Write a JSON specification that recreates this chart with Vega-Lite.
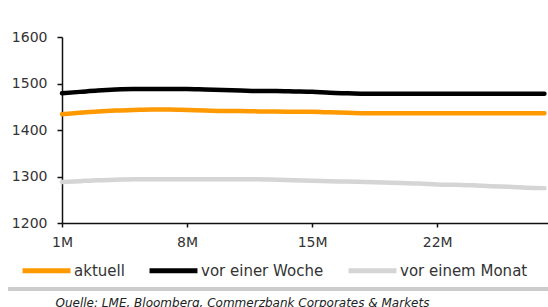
{
  "$schema": "https://vega.github.io/schema/vega-lite/v6.json",
  "width": 486,
  "height": 186,
  "autosize": {"type": "none"},
  "padding": {"left": 62, "top": 37, "right": 0, "bottom": 84},
  "background": "white",
  "config": {
    "font": "DejaVu Sans",
    "view": {"stroke": null},
    "axis": {"grid": false, "domainColor": "#111", "domainWidth": 1.5, "tickColor": "#111", "tickWidth": 1.5, "labelColor": "#333", "labelFontSize": 14, "labelFont": "DejaVu Sans", "title": null}
  },
  "data": {
    "values": [
      {"m": 1, "s": "aktuell", "v": 1434}, {"m": 2, "s": "aktuell", "v": 1437}, {"m": 3, "s": "aktuell", "v": 1440}, {"m": 4, "s": "aktuell", "v": 1442},
      {"m": 5, "s": "aktuell", "v": 1443}, {"m": 6, "s": "aktuell", "v": 1444}, {"m": 7, "s": "aktuell", "v": 1444}, {"m": 8, "s": "aktuell", "v": 1443},
      {"m": 9, "s": "aktuell", "v": 1442}, {"m": 10, "s": "aktuell", "v": 1441}, {"m": 11, "s": "aktuell", "v": 1441}, {"m": 12, "s": "aktuell", "v": 1440},
      {"m": 13, "s": "aktuell", "v": 1440}, {"m": 14, "s": "aktuell", "v": 1439}, {"m": 15, "s": "aktuell", "v": 1439}, {"m": 16, "s": "aktuell", "v": 1438},
      {"m": 17, "s": "aktuell", "v": 1437}, {"m": 18, "s": "aktuell", "v": 1436}, {"m": 19, "s": "aktuell", "v": 1436}, {"m": 20, "s": "aktuell", "v": 1436},
      {"m": 21, "s": "aktuell", "v": 1436}, {"m": 22, "s": "aktuell", "v": 1436}, {"m": 23, "s": "aktuell", "v": 1436}, {"m": 24, "s": "aktuell", "v": 1436},
      {"m": 25, "s": "aktuell", "v": 1436}, {"m": 26, "s": "aktuell", "v": 1436}, {"m": 27, "s": "aktuell", "v": 1436}, {"m": 28, "s": "aktuell", "v": 1436},
      {"m": 1, "s": "vor einer Woche", "v": 1479}, {"m": 2, "s": "vor einer Woche", "v": 1482}, {"m": 3, "s": "vor einer Woche", "v": 1485}, {"m": 4, "s": "vor einer Woche", "v": 1487},
      {"m": 5, "s": "vor einer Woche", "v": 1488}, {"m": 6, "s": "vor einer Woche", "v": 1488}, {"m": 7, "s": "vor einer Woche", "v": 1488}, {"m": 8, "s": "vor einer Woche", "v": 1488},
      {"m": 9, "s": "vor einer Woche", "v": 1487}, {"m": 10, "s": "vor einer Woche", "v": 1486}, {"m": 11, "s": "vor einer Woche", "v": 1485}, {"m": 12, "s": "vor einer Woche", "v": 1484},
      {"m": 13, "s": "vor einer Woche", "v": 1484}, {"m": 14, "s": "vor einer Woche", "v": 1483}, {"m": 15, "s": "vor einer Woche", "v": 1482}, {"m": 16, "s": "vor einer Woche", "v": 1480},
      {"m": 17, "s": "vor einer Woche", "v": 1479}, {"m": 18, "s": "vor einer Woche", "v": 1478}, {"m": 19, "s": "vor einer Woche", "v": 1478}, {"m": 20, "s": "vor einer Woche", "v": 1478},
      {"m": 21, "s": "vor einer Woche", "v": 1478}, {"m": 22, "s": "vor einer Woche", "v": 1478}, {"m": 23, "s": "vor einer Woche", "v": 1478}, {"m": 24, "s": "vor einer Woche", "v": 1478},
      {"m": 25, "s": "vor einer Woche", "v": 1478}, {"m": 26, "s": "vor einer Woche", "v": 1478}, {"m": 27, "s": "vor einer Woche", "v": 1478}, {"m": 28, "s": "vor einer Woche", "v": 1478},
      {"m": 1, "s": "vor einem Monat", "v": 1288}, {"m": 2, "s": "vor einem Monat", "v": 1290}, {"m": 3, "s": "vor einem Monat", "v": 1292}, {"m": 4, "s": "vor einem Monat", "v": 1293},
      {"m": 5, "s": "vor einem Monat", "v": 1294}, {"m": 6, "s": "vor einem Monat", "v": 1294}, {"m": 7, "s": "vor einem Monat", "v": 1294}, {"m": 8, "s": "vor einem Monat", "v": 1294},
      {"m": 9, "s": "vor einem Monat", "v": 1294}, {"m": 10, "s": "vor einem Monat", "v": 1294}, {"m": 11, "s": "vor einem Monat", "v": 1294}, {"m": 12, "s": "vor einem Monat", "v": 1294},
      {"m": 13, "s": "vor einem Monat", "v": 1293}, {"m": 14, "s": "vor einem Monat", "v": 1292}, {"m": 15, "s": "vor einem Monat", "v": 1291}, {"m": 16, "s": "vor einem Monat", "v": 1290},
      {"m": 17, "s": "vor einem Monat", "v": 1289}, {"m": 18, "s": "vor einem Monat", "v": 1288}, {"m": 19, "s": "vor einem Monat", "v": 1287}, {"m": 20, "s": "vor einem Monat", "v": 1286},
      {"m": 21, "s": "vor einem Monat", "v": 1285}, {"m": 22, "s": "vor einem Monat", "v": 1283}, {"m": 23, "s": "vor einem Monat", "v": 1282}, {"m": 24, "s": "vor einem Monat", "v": 1281},
      {"m": 25, "s": "vor einem Monat", "v": 1279}, {"m": 26, "s": "vor einem Monat", "v": 1278}, {"m": 27, "s": "vor einem Monat", "v": 1276}, {"m": 28, "s": "vor einem Monat", "v": 1275}
    ]
  },
  "layer": [
    {
      "mark": {"type": "line", "strokeWidth": 4.5, "interpolate": "monotone", "strokeCap": "round"},
      "encoding": {
        "x": {
          "field": "m", "type": "quantitative",
          "scale": {"domain": [1, 28.2], "nice": false, "zero": false},
          "axis": {
            "values": [1, 8, 15, 22], "labelExpr": "datum.value + 'M'", "tickSize": 4, "labelPadding": 8, "labelFlush": false,
            "title": "Quelle: LME, Bloomberg, Commerzbank Corporates & Markets",
            "titleX": -7, "titleY": 74, "titleAlign": "left", "titleAnchor": "start", "titleBaseline": "top",
            "titleFontSize": 12, "titleFontStyle": "italic", "titleFontWeight": "normal", "titleColor": "#222"
          }
        },
        "y": {
          "field": "v", "type": "quantitative",
          "scale": {"domain": [1200, 1600], "nice": false, "zero": false},
          "axis": {"values": [1200, 1300, 1400, 1500, 1600], "format": "d", "tickSize": 5, "labelPadding": 10, "labelFlush": false, "title": null}
        },
        "color": {
          "field": "s", "type": "nominal",
          "scale": {"domain": ["aktuell", "vor einer Woche", "vor einem Monat"], "range": ["#FF9900", "#000000", "#D5D5D5"]},
          "legend": {
            "orient": "none", "direction": "horizontal", "title": null,
            "legendX": -42, "legendY": 207,
            "symbolType": "stroke", "symbolSize": 2300, "symbolStrokeWidth": 5,
            "labelFontSize": 15, "labelColor": "#333", "labelOffset": 1, "columnPadding": 14
          }
        }
      }
    },
    {
      "mark": {"type": "rule", "clip": false, "color": "#CCCCCC", "strokeWidth": 3},
      "encoding": {"y": {"datum": 1058}, "x": {"datum": -2}, "x2": {"datum": 28.2}}
    }
  ]
}
